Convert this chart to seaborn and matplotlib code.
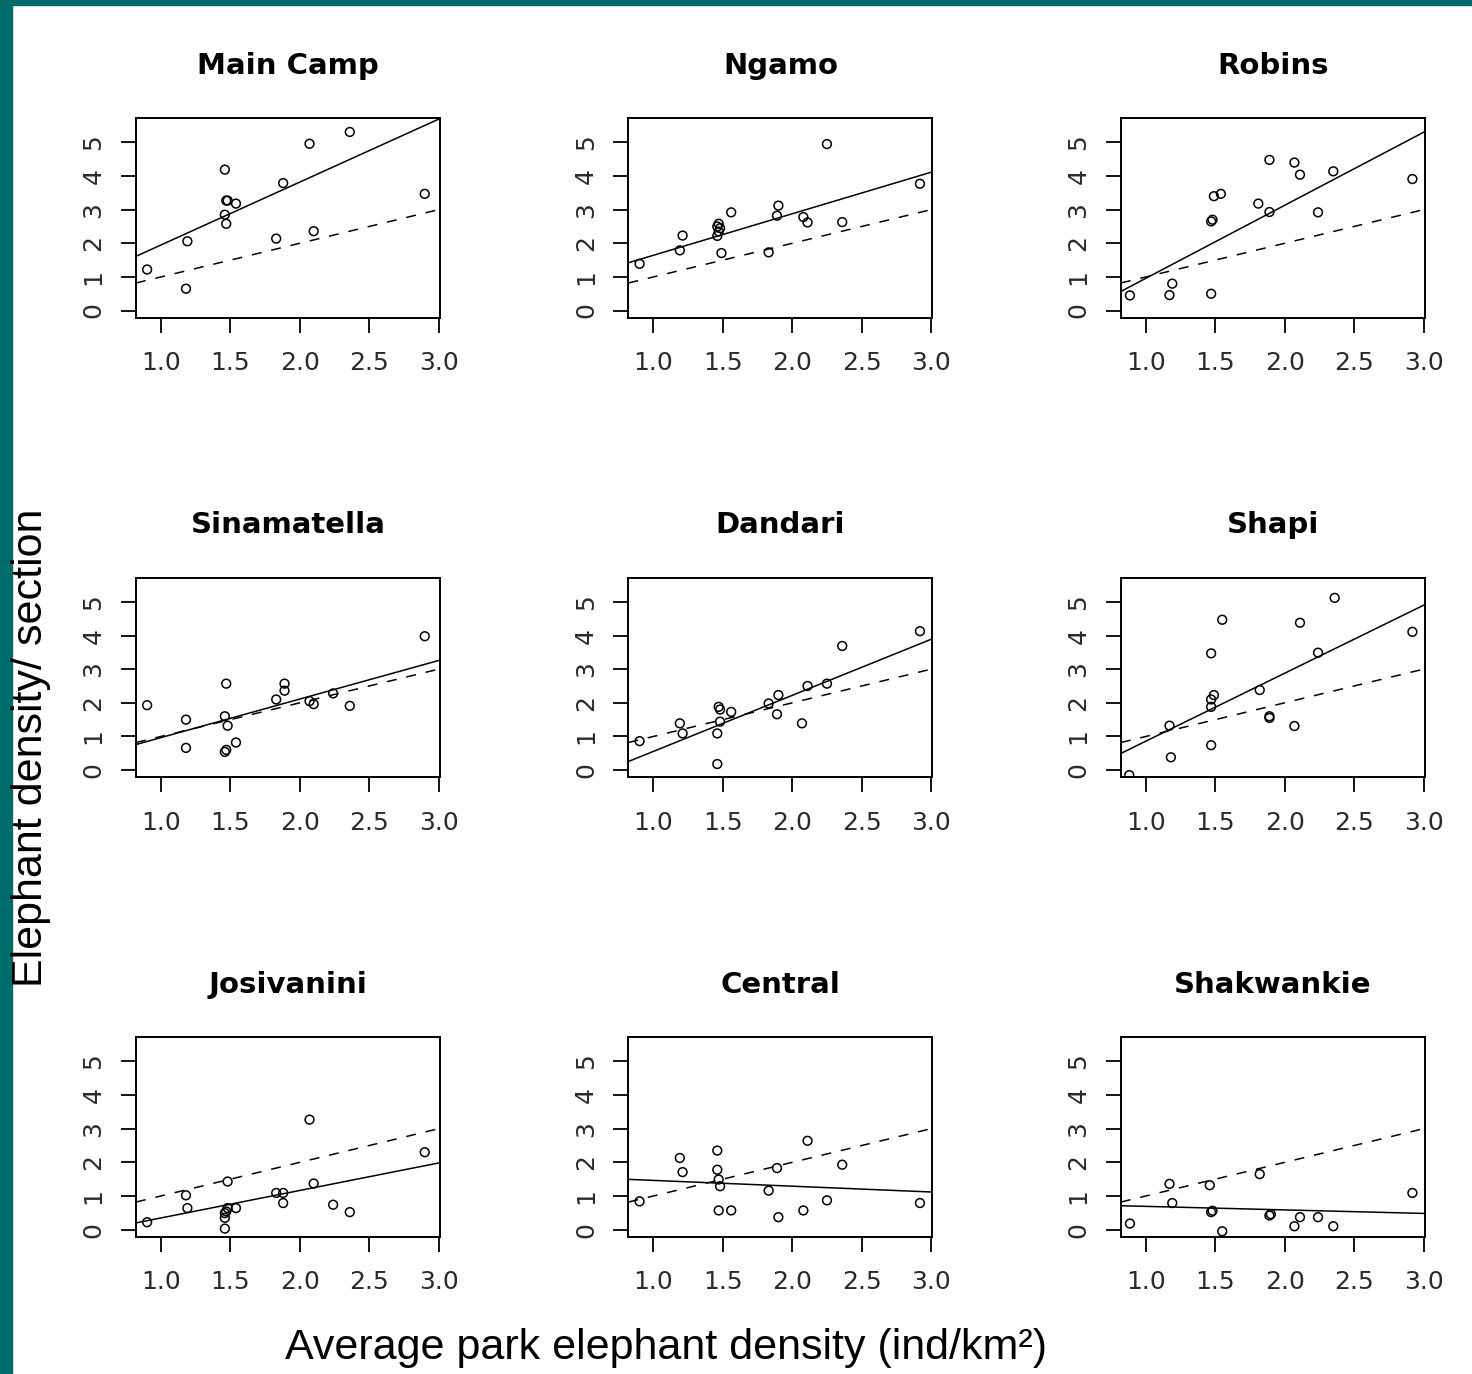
import numpy as np
import matplotlib
matplotlib.use("Agg")
import matplotlib.pyplot as plt
from matplotlib.patches import Rectangle
import seaborn as sns

# section names, in panel order
sections = ["Main Camp", "Ngamo", "Robins",
            "Sinamatella", "Dandari", "Shapi",
            "Josivanini", "Central", "Shakwankie"]

# points (average park density, section density)
main_camp_x = [0.90, 1.18, 1.19, 1.46, 1.47, 1.48, 1.46, 1.47, 1.54, 1.83, 1.88, 2.07, 2.10, 2.36, 2.90]
main_camp_y = [1.22, 0.65, 2.06, 4.19, 3.27, 3.27, 2.85, 2.58, 3.18, 2.14, 3.79, 4.96, 2.36, 5.31, 3.47]

ngamo_x = [0.90, 1.19, 1.21, 1.46, 1.47, 1.48, 1.47, 1.46, 1.49, 1.56, 1.83, 1.89, 1.90, 2.08, 2.11, 2.25, 2.36, 2.92]
ngamo_y = [1.39, 1.79, 2.23, 2.50, 2.58, 2.45, 2.35, 2.22, 1.71, 2.92, 1.73, 2.82, 3.12, 2.78, 2.62, 4.95, 2.63, 3.77]

robins_x = [0.885, 1.17, 1.19, 1.47, 1.47, 1.48, 1.49, 1.54, 1.81, 1.89, 1.89, 2.07, 2.11, 2.24, 2.35, 2.92]
robins_y = [0.45, 0.46, 0.80, 0.50, 2.65, 2.70, 3.40, 3.47, 3.18, 2.93, 4.48, 4.40, 4.04, 2.92, 4.14, 3.91]

sinamatella_x = [0.90, 1.18, 1.18, 1.47, 1.46, 1.48, 1.46, 1.47, 1.54, 1.83, 1.89, 1.89, 2.07, 2.10, 2.24, 2.36, 2.90]
sinamatella_y = [1.93, 1.50, 0.66, 2.57, 1.60, 1.32, 0.54, 0.60, 0.82, 2.10, 2.57, 2.36, 2.05, 1.96, 2.28, 1.91, 3.98]

dandari_x = [0.90, 1.19, 1.21, 1.47, 1.48, 1.46, 1.48, 1.46, 1.56, 1.83, 1.89, 1.90, 2.07, 2.11, 2.25, 2.36, 2.92]
dandari_y = [0.86, 1.39, 1.09, 1.88, 1.80, 1.09, 1.44, 0.18, 1.73, 1.98, 1.66, 2.23, 1.39, 2.50, 2.57, 3.69, 4.13]

shapi_x = [0.88, 1.17, 1.18, 1.47, 1.47, 1.47, 1.49, 1.47, 1.55, 1.82, 1.89, 1.89, 2.07, 2.11, 2.24, 2.36, 2.92]
shapi_y = [-0.15, 1.32, 0.38, 3.47, 0.74, 1.88, 2.23, 2.10, 4.47, 2.38, 1.55, 1.60, 1.31, 4.38, 3.49, 5.12, 4.11]

josivanini_x = [0.90, 1.18, 1.19, 1.48, 1.46, 1.47, 1.46, 1.46, 1.48, 1.54, 1.83, 1.88, 1.88, 2.07, 2.10, 2.24, 2.36, 2.90]
josivanini_y = [0.22, 1.02, 0.64, 1.43, 0.49, 0.54, 0.35, 0.03, 0.64, 0.64, 1.09, 1.09, 0.79, 3.27, 1.37, 0.74, 0.52, 2.30]

central_x = [0.90, 1.19, 1.21, 1.46, 1.46, 1.47, 1.48, 1.47, 1.56, 1.83, 1.89, 1.90, 2.08, 2.11, 2.25, 2.36, 2.92]
central_y = [0.84, 2.13, 1.71, 2.35, 1.78, 1.49, 1.29, 0.57, 0.57, 1.16, 1.83, 0.37, 0.57, 2.64, 0.87, 1.93, 0.79]

shakwankie_x = [0.885, 1.17, 1.19, 1.46, 1.47, 1.48, 1.55, 1.82, 1.89, 1.90, 2.07, 2.11, 2.24, 2.35, 2.92]
shakwankie_y = [0.18, 1.36, 0.79, 1.32, 0.52, 0.56, -0.05, 1.65, 0.42, 0.46, 0.10, 0.37, 0.37, 0.10, 1.09]

# fitted lines (intercept, slope)
intercepts = [0.08, 0.41, -1.21, -0.18, -1.11, -1.16, -0.47, 1.635, 0.796]
slopes = [1.87, 1.234, 2.17, 1.146, 1.666, 2.02, 0.817, -0.172, -0.105]

xs = [main_camp_x, ngamo_x, robins_x, sinamatella_x, dandari_x, shapi_x,
      josivanini_x, central_x, shakwankie_x]
ys = [main_camp_y, ngamo_y, robins_y, sinamatella_y, dandari_y, shapi_y,
      josivanini_y, central_y, shakwankie_y]

x_ticks = [1.0, 1.5, 2.0, 2.5, 3.0]
y_ticks = [0, 1, 2, 3, 4, 5]

sns.set_theme(style="white")
plt.rcParams['font.family'] = ['Liberation Sans', 'DejaVu Sans']
plt.rcParams['text.color'] = 'black'

fig, axes = plt.subplots(3, 3, figsize=(14.72, 13.74), dpi=100)
fig.subplots_adjust(left=0.0924, right=0.968, top=0.914, bottom=0.0997,
                    wspace=0.62, hspace=1.3)

for i, ax in enumerate(axes.flat):
    sns.scatterplot(x=xs[i], y=ys[i], ax=ax, marker='o', s=40,
                    facecolors='none', edgecolor='black', linewidth=1.1,
                    legend=False)
    # 1:1 line and the regression fit
    ax.axline((0, 0), slope=1, color='black', lw=1.1, ls=(0, (6.5, 6.5)))
    ax.axline((0, intercepts[i]), slope=slopes[i], color='black', lw=1.1)

    ax.set_xlim(0.82, 3.01)
    ax.set_ylim(-0.22, 5.72)
    ax.set_xticks(x_ticks)
    ax.set_xticklabels([f"{t:.1f}" for t in x_ticks])
    ax.set_yticks(y_ticks)
    ax.set_yticklabels([str(t) for t in y_ticks], rotation=90, va='center')
    ax.tick_params(axis='both', direction='out', length=11, width=1.3,
                   color='black', labelsize=18, labelcolor='#2a2a2a',
                   bottom=True, left=True)
    ax.tick_params(axis='x', pad=13)
    ax.tick_params(axis='y', pad=11)
    for lab in ax.get_xticklabels() + ax.get_yticklabels():
        lab.set_family('DejaVu Sans')
    for s in ax.spines.values():
        s.set_color('black')
        s.set_linewidth(1.4)
    ax.set_title(sections[i], fontsize=21, fontweight='bold', pad=32,
                 family='DejaVu Sans', color='black')
    ax.set_xlabel('')
    ax.set_ylabel('')

fig.text(0.4525, 0.019, 'Average park elephant density (ind/km²)',
         fontsize=31, ha='center', va='center', color='black')
fig.text(0.021, 0.456, 'Elephant density/ section', fontsize=31,
         rotation=90, ha='center', va='center', color='black')

# teal slide border
teal = '#006B6B'
fig.add_artist(Rectangle((0, 0), 12 / 1472, 1, transform=fig.transFigure,
                         color=teal, zorder=0))
fig.add_artist(Rectangle((0, 1 - 5 / 1374), 1, 5 / 1374, transform=fig.transFigure,
                         color=teal, zorder=0))

fig.savefig('out.png', dpi=100, facecolor='white')
